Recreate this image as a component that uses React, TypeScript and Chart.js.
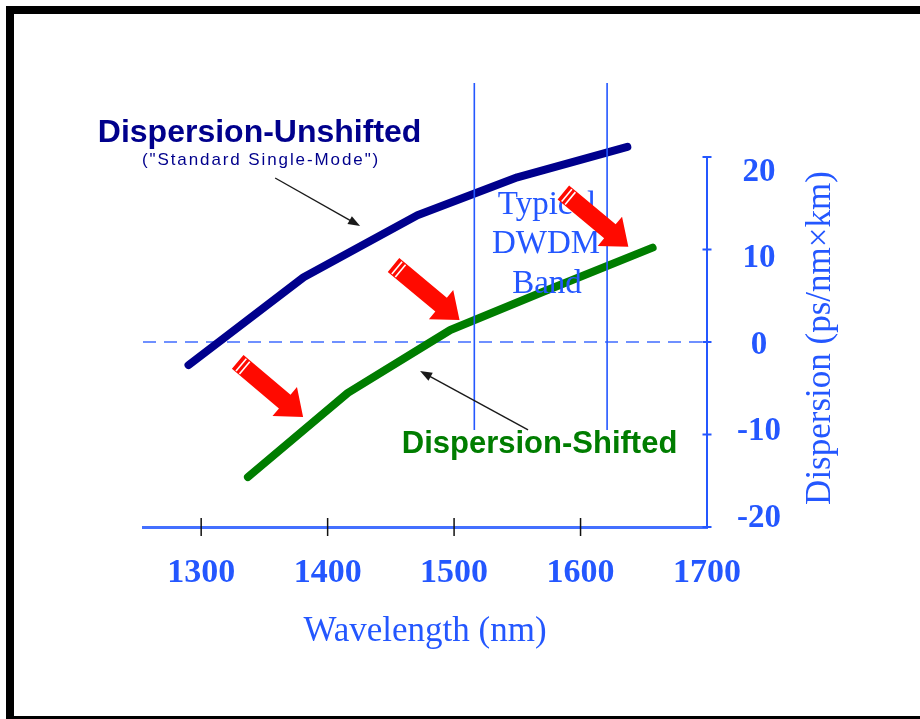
import React, { useEffect, useRef } from "react";
import { Chart, registerables } from "chart.js";

Chart.register(...registerables);

// ---- data ----
const unshiftedX = [1290, 1381, 1471, 1550, 1637];
const unshiftedY = [-2.5, 7.0, 13.7, 17.8, 21.1];
const shiftedX = [1337, 1416, 1497, 1570, 1657];
const shiftedY = [-14.6, -5.5, 1.3, 5.4, 10.2];

const xTicks = [1300, 1400, 1500, 1600, 1700];
const xTickMarks = [1300, 1400, 1500, 1600];
const yTicks = [-20, -10, 0, 10, 20];
const xRange = [1254, 1700];
const yRange = [-20, 28];
const yLabelRange = [-21.04, 30.29];

const bandEdges = [1516, 1621];
const bandBottom = -9.5;

// annotation anchors (data units)
const noteTexts = [
  "Dispersion-Unshifted",
  '("Standard Single-Mode")',
  "Typical",
  "DWDM",
  "Band",
  "Dispersion-Shifted",
];
const noteX = [1346.2, 1346.6, 1573.5, 1572.7, 1573.5, 1567.6];
const noteY = [21.62, 19.14, 13.84, 9.62, 5.3, -12.0];

const pointerTailX = [1358.5, 1558.5];
const pointerTailY = [17.73, -9.51];
const pointerHeadX = [1425.7, 1473.1];
const pointerHeadY = [12.54, -3.14];

const redTailX = [1328.9, 1452.1, 1586.4];
const redTailY = [-2.16, 8.32, 16.16];
const redTipX = [1380.6, 1504.3, 1637.8];
const redTipY = [-8.11, 2.38, 10.31];

// ---- styles ----
const BLUE = "#2457ff";
const NAVY = "#00008c";
const GREEN = "#007d00";
const SERIF = "'Liberation Serif', 'Times New Roman', serif";
const SANS = "'Liberation Sans', Arial, sans-serif";

const noteStyles = [
  { font: `bold 32px ${SANS}`, color: NAVY, spacing: 0 },
  { font: `17px ${SANS}`, color: NAVY, spacing: 1.9 },
  { font: `33px ${SERIF}`, color: BLUE, spacing: 0 },
  { font: `33px ${SERIF}`, color: BLUE, spacing: 0 },
  { font: `33px ${SERIF}`, color: BLUE, spacing: 0 },
  { font: `bold 31px ${SANS}`, color: GREEN, spacing: 0 },
];

function drawBlockArrow(ctx: CanvasRenderingContext2D, x0: number, y0: number, x1: number, y1: number) {
  const dx = x1 - x0;
  const dy = y1 - y0;
  const L = Math.hypot(dx, dy);
  const sw = 18;
  const hw = 38;
  const hl = 24;
  ctx.save();
  ctx.translate(x0, y0);
  ctx.rotate(Math.atan2(dy, dx));
  ctx.fillStyle = "#ff0a00";
  ctx.beginPath();
  ctx.moveTo(0, -sw / 2);
  ctx.lineTo(L - hl, -sw / 2);
  ctx.lineTo(L - hl, -hw / 2);
  ctx.lineTo(L, 0);
  ctx.lineTo(L - hl, hw / 2);
  ctx.lineTo(L - hl, sw / 2);
  ctx.lineTo(0, sw / 2);
  ctx.closePath();
  ctx.fill();
  ctx.strokeStyle = "#ffffff";
  ctx.lineWidth = 1.6;
  for (const d of [4.5, 9]) {
    ctx.beginPath();
    ctx.moveTo(d, -sw / 2 + 1);
    ctx.lineTo(d, sw / 2 - 1);
    ctx.stroke();
  }
  ctx.restore();
}

function drawPointer(ctx: CanvasRenderingContext2D, x0: number, y0: number, x1: number, y1: number) {
  const ang = Math.atan2(y1 - y0, x1 - x0);
  const L = Math.hypot(x1 - x0, y1 - y0);
  ctx.save();
  ctx.translate(x0, y0);
  ctx.rotate(ang);
  ctx.strokeStyle = "#1a1a1a";
  ctx.fillStyle = "#1a1a1a";
  ctx.lineWidth = 1.4;
  ctx.beginPath();
  ctx.moveTo(0, 0);
  ctx.lineTo(L - 8, 0);
  ctx.stroke();
  ctx.beginPath();
  ctx.moveTo(L, 0);
  ctx.lineTo(L - 12, -4.5);
  ctx.lineTo(L - 12, 4.5);
  ctx.closePath();
  ctx.fill();
  ctx.restore();
}

const annotations = {
  id: "annotations",
  afterDatasetsDraw(chart: any) {
    const { ctx } = chart;
    const x = chart.scales.x;
    const y = chart.scales.y;
    ctx.save();
    ctx.textAlign = "center";
    ctx.textBaseline = "alphabetic";
    noteTexts.forEach((t, i) => {
      const s = noteStyles[i];
      ctx.font = s.font;
      ctx.fillStyle = s.color;
      (ctx as any).letterSpacing = `${s.spacing}px`;
      ctx.fillText(t, x.getPixelForValue(noteX[i]) + s.spacing / 2, y.getPixelForValue(noteY[i]));
    });
    (ctx as any).letterSpacing = "0px";
    pointerTailX.forEach((_, i) => {
      drawPointer(
        ctx,
        x.getPixelForValue(pointerTailX[i]),
        y.getPixelForValue(pointerTailY[i]),
        x.getPixelForValue(pointerHeadX[i]),
        y.getPixelForValue(pointerHeadY[i])
      );
    });
    redTailX.forEach((_, i) => {
      drawBlockArrow(
        ctx,
        x.getPixelForValue(redTailX[i]),
        y.getPixelForValue(redTailY[i]),
        x.getPixelForValue(redTipX[i]),
        y.getPixelForValue(redTipY[i])
      );
    });
    ctx.restore();
  },
  afterDraw(chart: any) {
    const { ctx } = chart;
    const s = chart.scales.yLab;
    ctx.save();
    ctx.translate(s.left + 114, s.getPixelForValue(0) - 7);
    ctx.rotate(-Math.PI / 2);
    ctx.font = `35px ${SERIF}`;
    ctx.fillStyle = BLUE;
    ctx.textAlign = "center";
    ctx.textBaseline = "middle";
    ctx.fillText("Dispersion (ps/nm\u00d7km)", 0, 0);
    ctx.restore();
  },
};

export default function App() {
  const ref = useRef<HTMLCanvasElement>(null);

  useEffect(() => {
    if (!ref.current) return;
    const datasets: any[] = [
      {
        label: "y ticks",
        type: "scatter",
        data: yTicks.map((v) => ({ x: xRange[1], y: v })),
        pointStyle: "line",
        radius: 4.5,
        borderColor: BLUE,
        borderWidth: 2,
        clip: false,
        order: 0,
      },
      {
        label: "x ticks",
        type: "scatter",
        data: xTickMarks.map((v) => ({ x: v, y: yRange[0] })),
        pointStyle: "line",
        rotation: 90,
        radius: 9,
        borderColor: "#111111",
        borderWidth: 1.5,
        clip: false,
        order: 0,
      },
      ...bandEdges.map((b) => ({
        label: "band " + b,
        type: "line",
        data: [
          { x: b, y: yRange[1] },
          { x: b, y: bandBottom },
        ],
        borderColor: BLUE,
        borderWidth: 1.6,
        pointRadius: 0,
        order: 1,
      })),
      {
        label: "Dispersion-Unshifted",
        type: "line",
        data: unshiftedX.map((v, i) => ({ x: v, y: unshiftedY[i] })),
        borderColor: NAVY,
        borderWidth: 8,
        borderCapStyle: "round",
        borderJoinStyle: "round",
        pointRadius: 0,
        order: 2,
      },
      {
        label: "Dispersion-Shifted",
        type: "line",
        data: shiftedX.map((v, i) => ({ x: v, y: shiftedY[i] })),
        borderColor: GREEN,
        borderWidth: 8,
        borderCapStyle: "round",
        borderJoinStyle: "round",
        pointRadius: 0,
        order: 2,
      },
      {
        label: "zero",
        type: "line",
        data: [
          { x: xRange[0], y: 0 },
          { x: xRange[1], y: 0 },
        ],
        borderColor: "#6f90ff",
        borderWidth: 2,
        borderDash: [13, 8],
        pointRadius: 0,
        order: 3,
      },
      {
        label: "right axis",
        type: "line",
        data: [
          { x: xRange[1], y: yTicks[0] },
          { x: xRange[1], y: yTicks[yTicks.length - 1] },
        ],
        borderColor: BLUE,
        borderWidth: 2,
        pointRadius: 0,
        clip: false,
        order: 4,
      },
    ];

    const chart = new Chart(ref.current, {
      type: "line",
      data: { datasets },
      plugins: [annotations],
      options: {
        animation: false,
        responsive: true,
        maintainAspectRatio: false,
        events: [],
        layout: { padding: { left: 143, top: 83, right: 0, bottom: 0 } },
        plugins: { legend: { display: false }, tooltip: { enabled: false } },
        scales: {
          x: {
            type: "linear",
            position: "bottom",
            min: xRange[0],
            max: xRange[1],
            afterBuildTicks: (s: any) => {
              s.ticks = xTicks.map((v) => ({ value: v }));
            },
            afterFit: (s: any) => {
              s.height = 192;
            },
            grid: { display: false, drawTicks: false },
            border: { display: true, color: "#4470ff", width: 3 },
            ticks: {
              color: BLUE,
              font: { family: SERIF, size: 34, weight: "bold" },
              padding: 26,
              maxRotation: 0,
              autoSkip: false,
              callback: (v: any) => String(v),
            },
            title: {
              display: true,
              text: "Wavelength (nm)",
              color: BLUE,
              font: { family: SERIF, size: 35 },
              padding: { top: 0, bottom: 66 },
            },
          },
          y: {
            type: "linear",
            display: false,
            min: yRange[0],
            max: yRange[1],
          },
          yLab: {
            type: "linear",
            position: "right",
            min: yLabelRange[0],
            max: yLabelRange[1],
            afterBuildTicks: (s: any) => {
              s.ticks = yTicks.map((v) => ({ value: v }));
            },
            afterFit: (s: any) => {
              s.width = 213;
            },
            grid: { display: false, drawTicks: false },
            border: { display: false },
            ticks: {
              color: BLUE,
              font: { family: SERIF, size: 33, weight: "bold" },
              padding: 30,
              crossAlign: "center",
              callback: (v: any) => String(v),
            },
          },
        },
      } as any,
    });
    return () => chart.destroy();
  }, []);

  return (
    <div style={{ position: "absolute", left: 0, top: 0, width: 920, height: 719, background: "#ffffff" }}>
      <div
        style={{
          position: "absolute",
          left: 6,
          top: 6,
          width: 914,
          height: 713,
          boxSizing: "border-box",
          borderLeft: "8px solid #000",
          borderTop: "8px solid #000",
          borderBottom: "3px solid #000",
        }}
      />
      <div style={{ position: "absolute", left: 0, top: 0, width: 920, height: 719 }}>
        <canvas ref={ref} />
      </div>
    </div>
  );
}
